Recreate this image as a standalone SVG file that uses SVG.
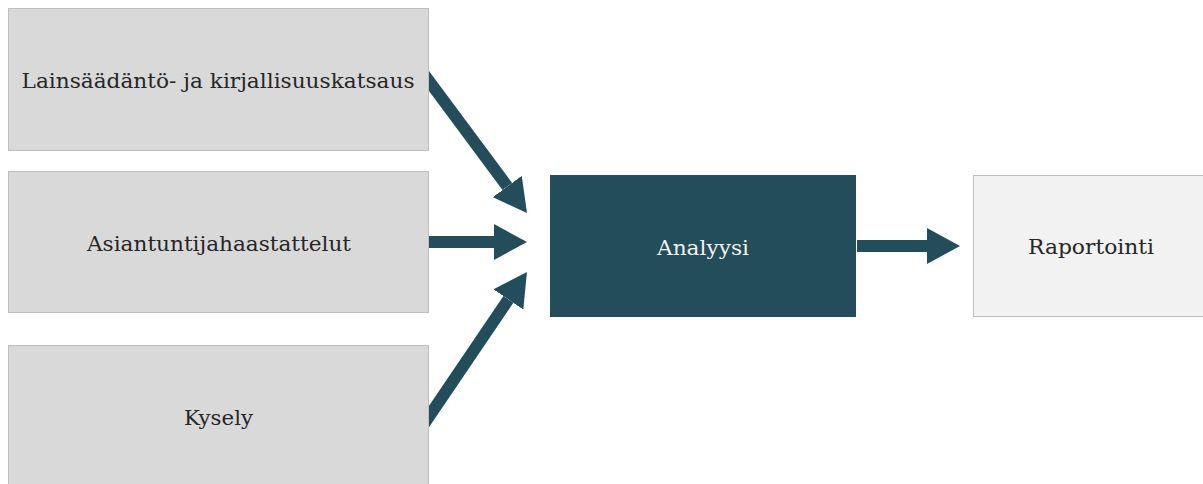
<svg xmlns="http://www.w3.org/2000/svg" width="1203" height="484" viewBox="0 0 1203 484">
<style>
.box{fill:#d9d9d9;stroke:#bfbfbf;stroke-width:1}
.lbl{font-family:"DejaVu Serif","Liberation Serif",serif;font-size:21px;fill:#262626;text-anchor:middle}
.conn{stroke:#234d5b;stroke-width:12;fill:none;marker-end:url(#head)}
</style>
<defs>
<marker id="head" markerUnits="userSpaceOnUse" viewBox="0 0 33 36" markerWidth="33" markerHeight="36" refX="0" refY="18" orient="auto">
<path d="M0,0 L33,18 L0,36 z" fill="#234d5b"/>
</marker>
</defs>
<g id="connectors">
<line class="conn" x1="419.7" y1="68.5" x2="507.3" y2="186.5"/>
<line class="conn" x1="420" y1="242" x2="494" y2="242"/>
<line class="conn" x1="420.1" y1="429.6" x2="508.4" y2="299.4"/>
<line class="conn" x1="857" y1="246" x2="927" y2="246"/>
</g>
<g id="node-lainsaadanto">
<rect class="box" x="8.5" y="8.5" width="420" height="142"/>
<text class="lbl" x="218" y="88" textLength="393" lengthAdjust="spacingAndGlyphs">Lainsäädäntö- ja kirjallisuuskatsaus</text>
</g>
<g id="node-asiantuntija">
<rect class="box" x="8.5" y="171.5" width="420" height="141"/>
<text class="lbl" x="219" y="251" textLength="264" lengthAdjust="spacingAndGlyphs">Asiantuntijahaastattelut</text>
</g>
<g id="node-kysely">
<rect class="box" x="8.5" y="345.5" width="420" height="145"/>
<text class="lbl" x="218.5" y="425" textLength="69" lengthAdjust="spacingAndGlyphs">Kysely</text>
</g>
<g id="node-analyysi">
<rect x="550" y="175" width="306" height="142" fill="#234d5b"/>
<text class="lbl" x="703" y="255" style="fill:#f2f2f2" textLength="92" lengthAdjust="spacingAndGlyphs">Analyysi</text>
</g>
<g id="node-raportointi">
<rect x="973.5" y="175.5" width="240" height="141" fill="#f2f2f2" stroke="#bfbfbf"/>
<text class="lbl" x="1091" y="254" textLength="126" lengthAdjust="spacingAndGlyphs">Raportointi</text>
</g>
</svg>
